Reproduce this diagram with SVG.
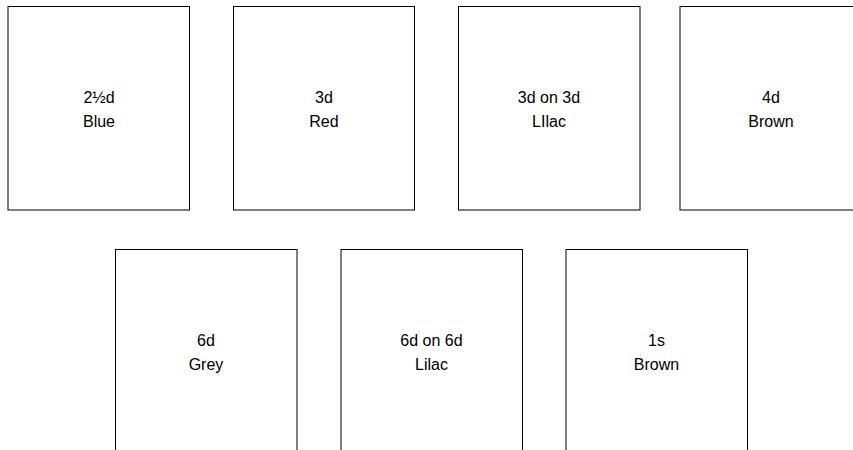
<svg xmlns="http://www.w3.org/2000/svg" width="853" height="450" viewBox="0 0 853 450">
<style>
.box{fill:#fff;stroke:#000;stroke-width:1}
.lbl{font-family:"Liberation Sans",Arial,sans-serif;font-size:16px;fill:#000;text-anchor:middle}
</style>
<rect width="853" height="450" fill="#fff"/>
<g id="n1"><rect class="box" x="8" y="6.5" width="181.5" height="203.5"/><text class="lbl" x="99" y="103">2½d</text><text class="lbl" x="99" y="126.5">Blue</text></g>
<g id="n2"><rect class="box" x="233.5" y="6.5" width="181" height="203.5"/><text class="lbl" x="324" y="103">3d</text><text class="lbl" x="324" y="126.5">Red</text></g>
<g id="n3"><rect class="box" x="458.5" y="6.5" width="181.5" height="203.5"/><text class="lbl" x="549" y="103">3d on 3d</text><text class="lbl" x="549" y="126.5">LIlac</text></g>
<g id="n4"><rect class="box" x="680" y="6.5" width="181.5" height="203.5"/><text class="lbl" x="771" y="103">4d</text><text class="lbl" x="771" y="126.5">Brown</text></g>
<g id="n5"><rect class="box" x="115.5" y="249.5" width="181.5" height="204"/><text class="lbl" x="206" y="346">6d</text><text class="lbl" x="206" y="369.5">Grey</text></g>
<g id="n6"><rect class="box" x="341" y="249.5" width="181.5" height="204"/><text class="lbl" x="431.5" y="346">6d on 6d</text><text class="lbl" x="431.5" y="369.5">Lilac</text></g>
<g id="n7"><rect class="box" x="566" y="249.5" width="181.5" height="204"/><text class="lbl" x="656.5" y="346">1s</text><text class="lbl" x="656.5" y="369.5">Brown</text></g>
<g id="connectors"></g>
</svg>
